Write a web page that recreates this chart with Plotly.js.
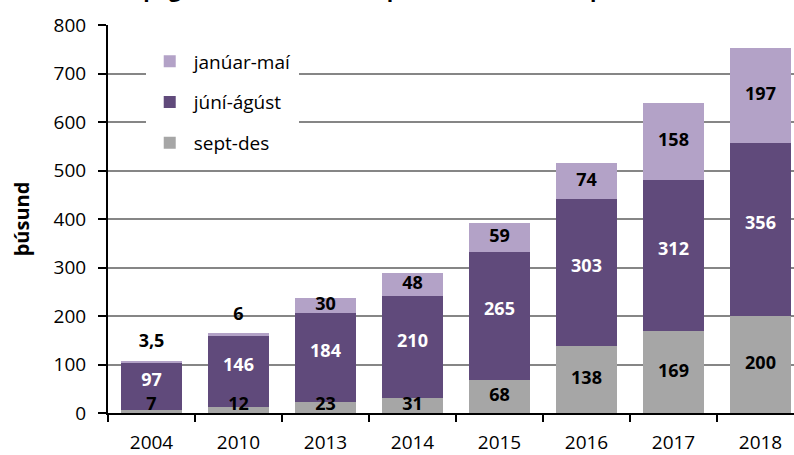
<!DOCTYPE html>
<html><head><meta charset="utf-8">
<script src="https://cdn.plot.ly/plotly-3.0.1.min.js"></script>
<style>html,body{margin:0;padding:0;background:#fff}#chart{width:794px;height:455px}</style>
</head><body><div id="chart"></div>
<script>
const categories = ['2004','2010','2013','2014','2015','2016','2017','2018'];
const septDes = [7,12,23,31,68,138,169,200];
const juniAgust = [97,146,184,210,265,303,312,356];
const januarMai = [3.5,6,30,48,59,74,158,197];
const seriesNames = ['sept-des','júní-ágúst','janúar-maí'];
const yTicks = [0,100,200,300,400,500,600,700,800];
const titleText = 'Farþegar skemmtiferðaskipa eftir tímabilum, þúsundir';

const colors = ['#A6A6A6','#604A7B','#B3A2C7'];
const FONT = 'Open Sans, Lato, sans-serif';
const fmt = v => String(v).replace('.', ',');

function barTrace(vals, i) {
  return {type:'bar', x:categories, y:vals, name:seriesNames[i], legendgroup:'g'+i, legendrank:3-i,
    marker:{color:colors[i], line:{width:0}}, hoverinfo:'skip'};
}
const bottomY = septDes.map(v => Math.max(v/2, 16));
const midY = septDes.map((s,i) => s + juniAgust[i]/2 + 10);
const topY = januarMai.map((v,i) => {
  const base = septDes[i] + juniAgust[i];
  return v < 10 ? base + v + 38 : base + v/2;
});
function textTrace(ys, vals, color) {
  return {type:'scatter', mode:'text', x:categories, y:ys, text:vals.map(fmt),
    textposition:'middle center', cliponaxis:false, showlegend:false, hoverinfo:'skip',
    textfont:{family:FONT, size:18, color:color, weight:'bold'}};
}
const data = [
  barTrace(septDes,0), barTrace(juniAgust,1), barTrace(januarMai,2),
  textTrace(bottomY, septDes, '#000'),
  textTrace(midY, juniAgust, '#fff'),
  textTrace(topY, januarMai, '#000')
];
const layout = {
  width:794, height:455,
  margin:{l:108, r:0, t:25, b:42, pad:0},
  paper_bgcolor:'#fff', plot_bgcolor:'#fff',
  barmode:'stack', bargap:0.295,
  font:{family:FONT, size:19, color:'#000'},
  title:{text:'<b>'+titleText+'</b>', font:{family:FONT, size:21, color:'#000'},
    x:0.5, xref:'container', y:1, yref:'paper', yanchor:'bottom', pad:{b:28}},
  xaxis:{type:'category', range:[-0.5, 7.385], tickson:'boundaries', ticks:'outside', ticklen:7,
    tickwidth:2, tickcolor:'#000', showline:true, linecolor:'#000', linewidth:2,
    showgrid:false, fixedrange:true, ticklabelstandoff:11, tickfont:{family:FONT, size:19, color:'#000'}},
  yaxis:{range:[0,800], tickvals:yTicks, ticktext:yTicks.map(String), ticks:'outside', ticklen:8,
    tickwidth:2, tickcolor:'#000', showline:true, linecolor:'#000', linewidth:2,
    showgrid:true, gridcolor:'#868686', gridwidth:2, zeroline:false, fixedrange:true,
    ticklabelstandoff:8, tickfont:{family:FONT, size:19, color:'#000'},
    title:{text:'<b>þúsund</b>', font:{family:FONT, size:20, color:'#000'}, standoff:19}},
  legend:{x:0.055, y:0.955, xanchor:'left', yanchor:'top', bgcolor:'#fff', itemwidth:38,
    traceorder:'grouped', tracegroupgap:13, font:{family:FONT, size:19, color:'#000'}},
  showlegend:true
};
Plotly.newPlot('chart', data, layout, {displayModeBar:false, staticPlot:true});
</script></body></html>
